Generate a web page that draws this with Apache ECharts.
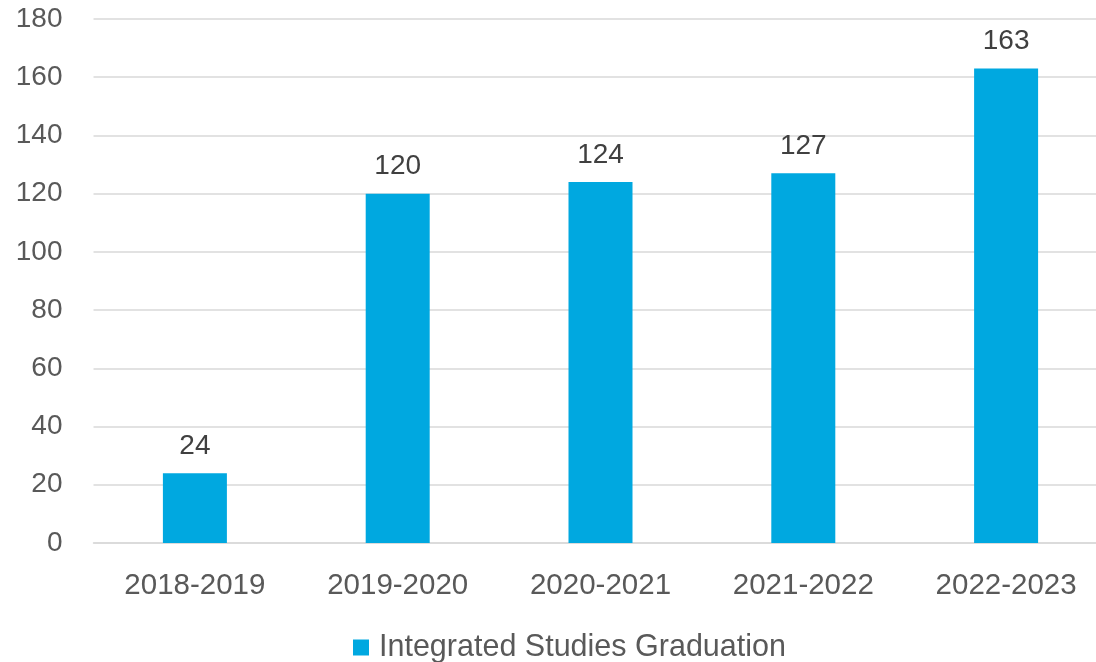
<!DOCTYPE html>
<html>
<head>
<meta charset="utf-8">
<script src="https://cdn.jsdelivr.net/npm/echarts@6/dist/echarts.min.js"></script>
<style>
  html, body { margin: 0; padding: 0; background: #fff; }
  #main { width: 1096px; height: 662px; }
</style>
</head>
<body>
<div id="main"></div>
<script>
// academic years on the x axis
const years = ['2018-2019', '2019-2020', '2020-2021', '2021-2022', '2022-2023'];
// graduation counts
const graduates = [24, 120, 124, 127, 163];
const seriesName = 'Integrated Studies Graduation';

const chart = echarts.init(document.getElementById('main'));
const font = '"Liberation Sans", Arial, sans-serif';

chart.setOption({
  animation: false,
  // plot runs a little past the right edge, like the original
  grid: { left: 93.5, width: 1014, top: 19, bottom: 119, outerBoundsMode: 'none' },
  legend: {
    bottom: -6,
    left: 348,
    itemWidth: 16,
    itemHeight: 16,
    icon: 'rect',
    textStyle: { fontFamily: font, fontSize: 30.5, color: '#595959', padding: [0, 0, 0, 5] },
    data: [seriesName]
  },
  xAxis: {
    type: 'category',
    data: years,
    axisLine: { show: true, lineStyle: { color: '#d9d9d9', width: 1.5 } },
    axisTick: { show: false },
    axisLabel: { fontFamily: font, fontSize: 29.5, color: '#595959', margin: 28 }
  },
  yAxis: {
    type: 'value',
    min: 0,
    max: 180,
    interval: 20,
    axisLine: { show: false },
    axisTick: { show: false },
    splitLine: { lineStyle: { color: '#d9d9d9', width: 1.5 } },
    axisLabel: { fontFamily: font, fontSize: 28, color: '#595959', margin: 31 }
  },
  series: [{
    name: seriesName,
    type: 'bar',
    data: graduates,
    barWidth: 64,
    itemStyle: { color: '#00a8e0' },
    label: {
      show: true,
      position: 'top',
      distance: 13,
      fontFamily: font,
      fontSize: 28,
      color: '#404040'
    }
  }]
});
</script>
</body>
</html>
